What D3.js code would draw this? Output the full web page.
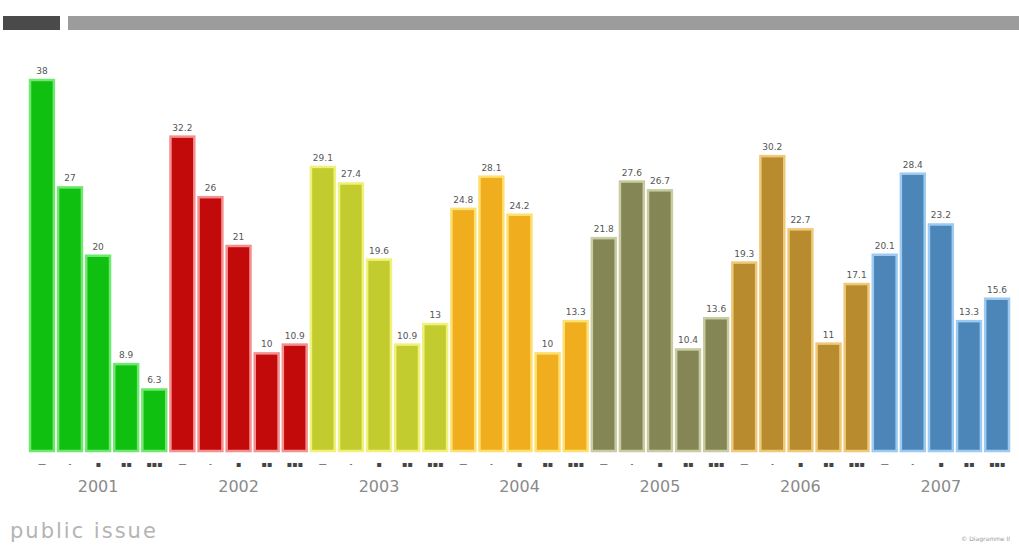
<!DOCTYPE html>
<meta charset="utf-8">
<style>
body { margin: 0; background: #fff; }
text { font-family: "DejaVu Sans", sans-serif; }
.val { font-size: 9px; fill: #555; text-anchor: middle; }
.sub { font-size: 8px; fill: #444; text-anchor: middle; }
.year { font-size: 16px; fill: #8a8a8a; text-anchor: middle; }
</style>
<body>
<svg width="1019" height="546"></svg>
</body>
<script src="https://d3js.org/d3.v7.min.js"></script>
<script>

var years = ["2001", "2002", "2003", "2004", "2005", "2006", "2007"];
var subLabels = ["\u2014", "-", "\u25aa", "\u25aa\u25aa", "\u25aa\u25aa\u25aa"];
var v2001 = [38, 27, 20, 8.9, 6.3];
var v2002 = [32.2, 26, 21, 10, 10.9];
var v2003 = [29.1, 27.4, 19.6, 10.9, 13];
var v2004 = [24.8, 28.1, 24.2, 10, 13.3];
var v2005 = [21.8, 27.6, 26.7, 10.4, 13.6];
var v2006 = [19.3, 30.2, 22.7, 11, 17.1];
var v2007 = [20.1, 28.4, 23.2, 13.3, 15.6];
var colors = ["#10c010", "#c20a0a", "#c2cc2e", "#f0ae1e", "#848656", "#b88c2e", "#4c86b8"];
var edges = ["#70e870", "#f49090", "#f0f07a", "#fde070", "#c8cca0", "#efc878", "#9ccaf0"];

var series = [v2001, v2002, v2003, v2004, v2005, v2006, v2007];

var data = [];
series.forEach(function(vals, g) {
  vals.forEach(function(v, i) {
    data.push({year: years[g], g: g, i: i, value: v, key: g * 5 + i});
  });
});

var svg = d3.select("svg");

// top header bars
svg.append("rect").attr("x", 3).attr("y", 16).attr("width", 57).attr("height", 14).attr("fill", "#4a4a4a");
svg.append("rect").attr("x", 68).attr("y", 16).attr("width", 951).attr("height", 14).attr("fill", "#9c9c9c");

var x = d3.scaleBand()
    .domain(d3.range(data.length))
    .range([29, 1010])
    .paddingInner(0.08);

var y = d3.scaleLinear()
    .domain([0, 38])
    .range([451, 80]);

svg.append("g").selectAll("rect")
    .data(data)
    .enter().append("rect")
    .attr("x", function(d) { return x(d.key) + 1; })
    .attr("y", function(d) { return y(d.value); })
    .attr("width", x.bandwidth() - 2)
    .attr("height", function(d) { return y(0) - y(d.value); })
    .attr("fill", function(d) { return colors[d.g]; })
    .attr("stroke", function(d) { return edges[d.g]; })
    .attr("stroke-width", 2.5);

svg.append("g").selectAll("text")
    .data(data)
    .enter().append("text")
    .attr("class", "val")
    .attr("x", function(d) { return x(d.key) + x.bandwidth() / 2; })
    .attr("y", function(d) { return y(d.value) - 6; })
    .text(function(d) { return String(d.value); });

svg.append("g").selectAll("text")
    .data(data)
    .enter().append("text")
    .attr("class", "sub")
    .attr("x", function(d) { return x(d.key) + x.bandwidth() / 2; })
    .attr("y", 467)
    .text(function(d) { return subLabels[d.i]; });

svg.append("g").selectAll("text")
    .data(years)
    .enter().append("text")
    .attr("class", "year")
    .attr("x", function(d, g) { return x(g * 5 + 2) + x.bandwidth() / 2; })
    .attr("y", 492)
    .text(function(d) { return d; });

svg.append("text")
    .attr("x", 10)
    .attr("y", 538)
    .attr("font-size", 21)
    .attr("letter-spacing", 2)
    .attr("fill", "#b4b4b4")
    .text("public issue");

svg.append("text")
    .attr("x", 1010)
    .attr("y", 541)
    .attr("text-anchor", "end")
    .attr("font-size", 6)
    .attr("fill", "#999")
    .text("\u00a9 Diagramme II");

</script>
</html>
